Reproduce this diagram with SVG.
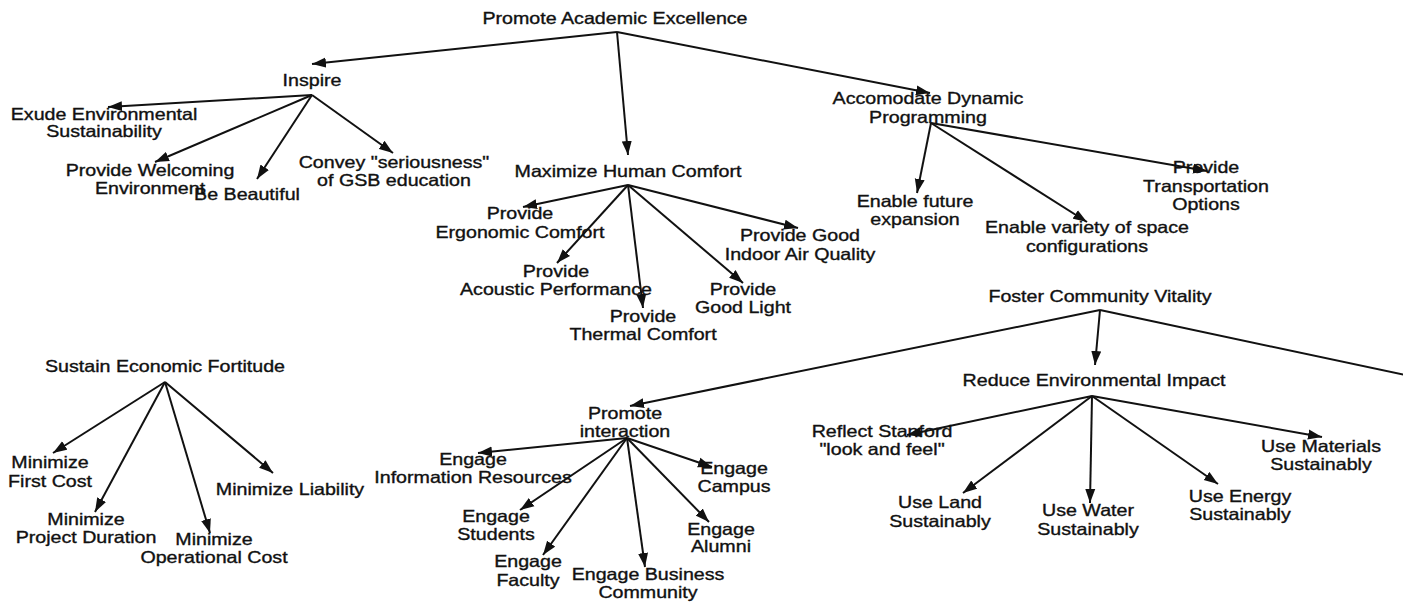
<svg xmlns="http://www.w3.org/2000/svg" width="1403" height="603" viewBox="0 0 1403 603">
<style>
text{font-family:"Liberation Sans",Arial,sans-serif;font-size:16.5px;fill:#111;stroke:#111;stroke-width:0.35;text-anchor:middle}
.c line{stroke:#111;stroke-width:2;fill:none}
.a{marker-end:url(#ah)}
</style>
<defs>
<marker id="ah" markerUnits="userSpaceOnUse" markerWidth="15" markerHeight="11" refX="14" refY="5.5" orient="auto">
<path d="M0,0.5 L14,5.5 L0,10.5 z" fill="#111"/>
</marker>
</defs>
<rect width="1403" height="603" fill="#fff"/>
<g id="connectors" class="c">
<line class="a" x1="617" y1="32" x2="312" y2="64"/>
<line class="a" x1="617" y1="32" x2="628" y2="155"/>
<line class="a" x1="617" y1="32" x2="930" y2="93"/>
<line class="a" x1="312" y1="95" x2="108" y2="107"/>
<line class="a" x1="312" y1="95" x2="155" y2="162"/>
<line class="a" x1="312" y1="95" x2="257" y2="179"/>
<line class="a" x1="312" y1="95" x2="393" y2="153"/>
<line class="a" x1="628" y1="185" x2="523" y2="207"/>
<line class="a" x1="628" y1="185" x2="557" y2="263"/>
<line class="a" x1="628" y1="185" x2="643" y2="308"/>
<line class="a" x1="628" y1="185" x2="743" y2="283"/>
<line class="a" x1="628" y1="185" x2="798" y2="228"/>
<line class="a" x1="931" y1="123" x2="917" y2="193"/>
<line class="a" x1="931" y1="123" x2="1087" y2="222"/>
<line class="a" x1="931" y1="123" x2="1207" y2="171"/>
<line class="a" x1="1100" y1="310" x2="630" y2="406"/>
<line class="a" x1="1100" y1="310" x2="1095" y2="365"/>
<line x1="1100" y1="310" x2="1405" y2="375"/>
<line class="a" x1="1092" y1="396" x2="907" y2="435"/>
<line class="a" x1="1092" y1="396" x2="963" y2="493"/>
<line class="a" x1="1092" y1="396" x2="1090" y2="503"/>
<line class="a" x1="1092" y1="396" x2="1218" y2="484"/>
<line class="a" x1="1092" y1="396" x2="1322" y2="437"/>
<line class="a" x1="627" y1="438" x2="478" y2="453"/>
<line class="a" x1="627" y1="438" x2="520" y2="510"/>
<line class="a" x1="627" y1="438" x2="543" y2="555"/>
<line class="a" x1="627" y1="438" x2="645" y2="567"/>
<line class="a" x1="627" y1="438" x2="709" y2="522"/>
<line class="a" x1="627" y1="438" x2="712" y2="467"/>
<line class="a" x1="165" y1="382" x2="53" y2="453"/>
<line class="a" x1="165" y1="382" x2="95" y2="512"/>
<line class="a" x1="165" y1="382" x2="210" y2="533"/>
<line class="a" x1="165" y1="382" x2="273" y2="473"/>
</g>
<g id="n-pae"><text transform="translate(615,24) scale(1.19,1)">Promote Academic Excellence</text></g>
<g id="n-inspire"><text transform="translate(312,86) scale(1.19,1)">Inspire</text></g>
<g id="n-exude"><text transform="translate(104,120) scale(1.19,1)"><tspan x="0" y="0">Exude Environmental</tspan><tspan x="0" y="17">Sustainability</tspan></text></g>
<g id="n-welcoming"><text transform="translate(150,176) scale(1.19,1)"><tspan x="0" y="0">Provide Welcoming</tspan><tspan x="0" y="18">Environment</tspan></text></g>
<g id="n-beautiful"><text transform="translate(247,200) scale(1.19,1)">Be Beautiful</text></g>
<g id="n-convey"><text transform="translate(394,168) scale(1.19,1)"><tspan x="0" y="0">Convey "seriousness"</tspan><tspan x="0" y="18">of GSB education</tspan></text></g>
<g id="n-mhc"><text transform="translate(628,177) scale(1.19,1)">Maximize Human Comfort</text></g>
<g id="n-ergonomic"><text transform="translate(520,219) scale(1.19,1)"><tspan x="0" y="0">Provide</tspan><tspan x="0" y="19">Ergonomic Comfort</tspan></text></g>
<g id="n-acoustic"><text transform="translate(556,277) scale(1.19,1)"><tspan x="0" y="0">Provide</tspan><tspan x="0" y="18">Acoustic Performance</tspan></text></g>
<g id="n-thermal"><text transform="translate(643,322) scale(1.19,1)"><tspan x="0" y="0">Provide</tspan><tspan x="0" y="18">Thermal Comfort</tspan></text></g>
<g id="n-light"><text transform="translate(743,295) scale(1.19,1)"><tspan x="0" y="0">Provide</tspan><tspan x="0" y="18">Good Light</tspan></text></g>
<g id="n-air"><text transform="translate(800,241) scale(1.19,1)"><tspan x="0" y="0">Provide Good</tspan><tspan x="0" y="19">Indoor Air Quality</tspan></text></g>
<g id="n-adp"><text transform="translate(928,104) scale(1.19,1)"><tspan x="0" y="0">Accomodate Dynamic</tspan><tspan x="0" y="19">Programming</tspan></text></g>
<g id="n-future"><text transform="translate(915,207) scale(1.19,1)"><tspan x="0" y="0">Enable future</tspan><tspan x="0" y="18">expansion</tspan></text></g>
<g id="n-variety"><text transform="translate(1087,233) scale(1.19,1)"><tspan x="0" y="0">Enable variety of space</tspan><tspan x="0" y="19">configurations</tspan></text></g>
<g id="n-transport"><text transform="translate(1206,173) scale(1.19,1)"><tspan x="0" y="0">Provide</tspan><tspan x="0" y="19">Transportation</tspan><tspan x="0" y="37">Options</tspan></text></g>
<g id="n-fcv"><text transform="translate(1100,302) scale(1.19,1)">Foster Community Vitality</text></g>
<g id="n-rei"><text transform="translate(1094,386) scale(1.19,1)">Reduce Environmental Impact</text></g>
<g id="n-reflect"><text transform="translate(882,437) scale(1.19,1)"><tspan x="0" y="0">Reflect Stanford</tspan><tspan x="0" y="18">"look and feel"</tspan></text></g>
<g id="n-land"><text transform="translate(940,508) scale(1.19,1)"><tspan x="0" y="0">Use Land</tspan><tspan x="0" y="19">Sustainably</tspan></text></g>
<g id="n-water"><text transform="translate(1088,516) scale(1.19,1)"><tspan x="0" y="0">Use Water</tspan><tspan x="0" y="19">Sustainably</tspan></text></g>
<g id="n-energy"><text transform="translate(1240,502) scale(1.19,1)"><tspan x="0" y="0">Use Energy</tspan><tspan x="0" y="18">Sustainably</tspan></text></g>
<g id="n-materials"><text transform="translate(1321,452) scale(1.19,1)"><tspan x="0" y="0">Use Materials</tspan><tspan x="0" y="18">Sustainably</tspan></text></g>
<g id="n-pi"><text transform="translate(625,419) scale(1.19,1)"><tspan x="0" y="0">Promote</tspan><tspan x="0" y="18">interaction</tspan></text></g>
<g id="n-info"><text transform="translate(473,465) scale(1.19,1)"><tspan x="0" y="0">Engage</tspan><tspan x="0" y="18">Information Resources</tspan></text></g>
<g id="n-students"><text transform="translate(496,522) scale(1.19,1)"><tspan x="0" y="0">Engage</tspan><tspan x="0" y="18">Students</tspan></text></g>
<g id="n-faculty"><text transform="translate(528,567) scale(1.19,1)"><tspan x="0" y="0">Engage</tspan><tspan x="0" y="19">Faculty</tspan></text></g>
<g id="n-business"><text transform="translate(648,580) scale(1.19,1)"><tspan x="0" y="0">Engage Business</tspan><tspan x="0" y="18">Community</tspan></text></g>
<g id="n-alumni"><text transform="translate(721,535) scale(1.19,1)"><tspan x="0" y="0">Engage</tspan><tspan x="0" y="17">Alumni</tspan></text></g>
<g id="n-campus"><text transform="translate(734,474) scale(1.19,1)"><tspan x="0" y="0">Engage</tspan><tspan x="0" y="18">Campus</tspan></text></g>
<g id="n-sef"><text transform="translate(165,372) scale(1.19,1)">Sustain Economic Fortitude</text></g>
<g id="n-first"><text transform="translate(50,468) scale(1.19,1)"><tspan x="0" y="0">Minimize</tspan><tspan x="0" y="19">First Cost</tspan></text></g>
<g id="n-duration"><text transform="translate(86,525) scale(1.19,1)"><tspan x="0" y="0">Minimize</tspan><tspan x="0" y="18">Project Duration</tspan></text></g>
<g id="n-operational"><text transform="translate(214,545) scale(1.19,1)"><tspan x="0" y="0">Minimize</tspan><tspan x="0" y="18">Operational Cost</tspan></text></g>
<g id="n-liability"><text transform="translate(290,495) scale(1.19,1)">Minimize Liability</text></g>
</svg>
